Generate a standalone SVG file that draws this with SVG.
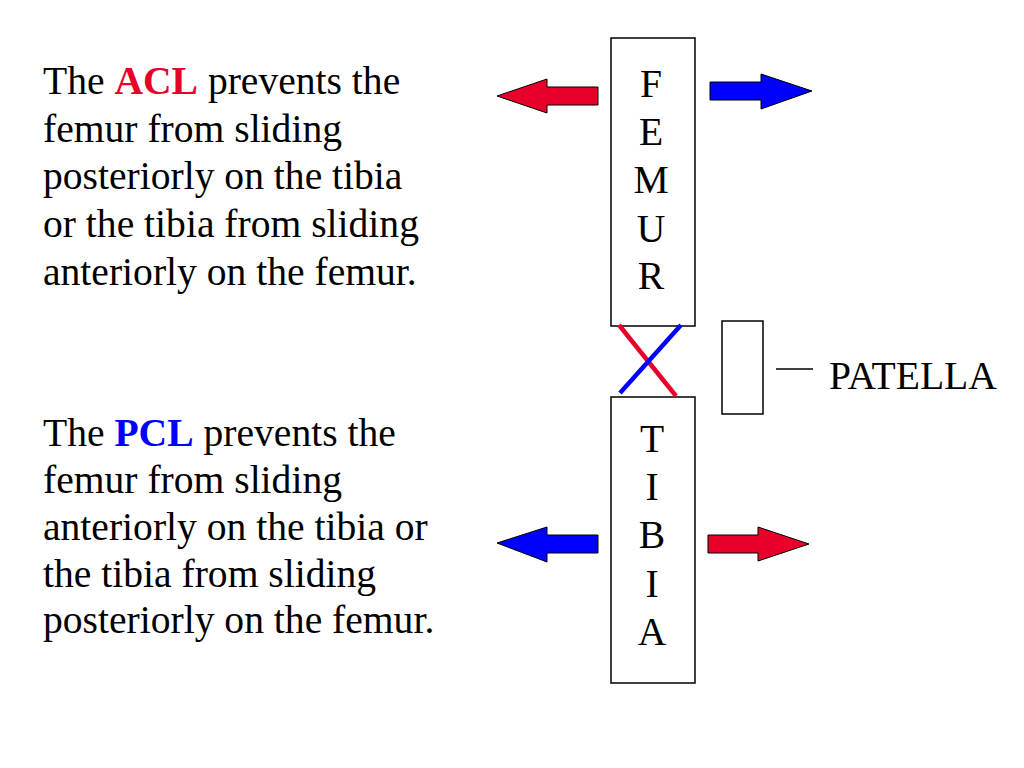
<svg xmlns="http://www.w3.org/2000/svg" width="1024" height="768" viewBox="0 0 1024 768">
<style>
text{font-family:"Liberation Serif","Times New Roman",serif;font-size:39.6px;fill:#000}
.c{text-anchor:middle}
.b{font-weight:bold}
.box{fill:#fff;stroke:#000;stroke-width:1.5}
.ar{stroke:#000;stroke-width:1}
</style>
<rect width="1024" height="768" fill="#fff"/>
<g id="acl-text">
<text x="43" y="94">The <tspan class="b" fill="#e8002a">ACL</tspan> prevents the</text>
<text x="43" y="142">femur from sliding</text>
<text x="43" y="189">posteriorly on the tibia</text>
<text x="43" y="237">or the tibia from sliding</text>
<text x="43" y="285">anteriorly on the femur.</text>
</g>
<g id="pcl-text">
<text x="43" y="446">The <tspan class="b" fill="#0000ff">PCL</tspan> prevents the</text>
<text x="43" y="493">femur from sliding</text>
<text x="43" y="540">anteriorly on the tibia or</text>
<text x="43" y="587">the tibia from sliding</text>
<text x="43" y="633">posteriorly on the femur.</text>
</g>
<g id="femur">
<rect class="box" x="611" y="38" width="84" height="288"/>
<text class="c" x="651" y="97">F</text>
<text class="c" x="651" y="145">E</text>
<text class="c" x="651" y="193">M</text>
<text class="c" x="651" y="242">U</text>
<text class="c" x="651" y="289">R</text>
</g>
<g id="tibia">
<rect class="box" x="611" y="397" width="84" height="286"/>
<text class="c" x="652" y="452">T</text>
<text class="c" x="652" y="500">I</text>
<text class="c" x="652" y="548">B</text>
<text class="c" x="652" y="597">I</text>
<text class="c" x="652" y="645">A</text>
</g>
<g id="patella">
<rect class="box" x="722" y="321" width="41" height="93"/>
<text x="829" y="389">PATELLA</text>
</g>
<g id="connectors">
<line x1="776" y1="369" x2="813" y2="369" stroke="#000" stroke-width="1.5"/>
<line x1="619" y1="325" x2="676" y2="396" stroke="#e8002a" stroke-width="4.5"/>
<line x1="681" y1="325" x2="620" y2="393" stroke="#0000ff" stroke-width="4.5"/>
<polygon class="ar" fill="#e8002a" points="598,87 547,87 547,79 497,96 547,113 547,105 598,105"/>
<polygon class="ar" fill="#0000ff" points="710,82 761,82 761,74 812,91 761,109 761,100 710,100"/>
<polygon class="ar" fill="#0000ff" points="598,535 547,535 547,527 497,543 547,562 547,553 598,553"/>
<polygon class="ar" fill="#e8002a" points="708,535 758,535 758,527 809,544 758,561 758,553 708,553"/>
</g>
</svg>
